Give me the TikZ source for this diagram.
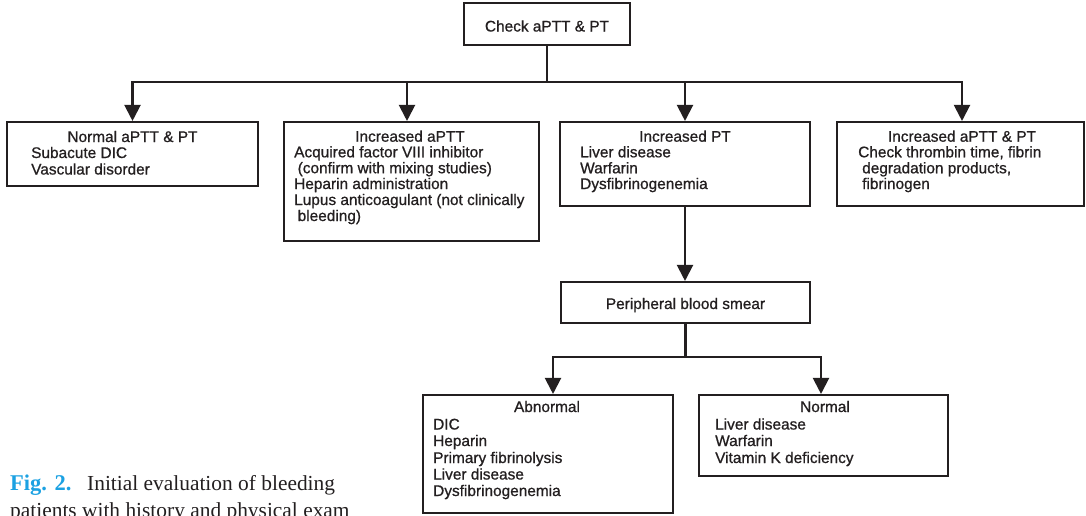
\documentclass[tikz,border=0pt]{standalone}
\usepackage{fontspec}
\setmainfont{Liberation Sans}[FakeBold=0.8]
\newfontfamily\capfont{Liberation Serif}
\usetikzlibrary{arrows.meta}
\definecolor{ink}{HTML}{231F20}
\definecolor{figblue}{HTML}{1BA1E2}
\begin{document}
\begin{tikzpicture}[x=1pt,y=-1pt,
  box/.style={draw=ink, line width=2.1pt, rectangle, inner sep=0pt},
  ttl/.style={anchor=base, inner sep=0pt, font=\fontsize{15.4}{16}\selectfont, text=ink},
  itm/.style={anchor=base west, inner sep=0pt, font=\fontsize{15.4}{16}\selectfont, text=ink},
  conn/.style={draw=ink, line width=2.1pt},
  stem/.style={draw=ink, line width=2.8pt},
  arr/.style={conn, -{Triangle[width=16pt,length=16pt]}},
  captext/.style={anchor=base west, inner sep=0pt, font=\capfont\fontsize{21.4}{26}\selectfont, text=ink}
]
\useasboundingbox (0,0) rectangle (1086,515);

% boxes
\node[box, minimum width=166pt, minimum height=42pt] (top) at (547,24) {};
\node[box, minimum width=251pt, minimum height=64pt] (b1) at (132.5,154) {};
\node[box, minimum width=255pt, minimum height=119pt] (b2) at (411.5,181.5) {};
\node[box, minimum width=250pt, minimum height=84pt] (b3) at (685,164) {};
\node[box, minimum width=247pt, minimum height=84pt] (b4) at (960.5,164) {};
\node[box, minimum width=249pt, minimum height=41pt] (smear) at (685.5,302.5) {};
\node[box, minimum width=250pt, minimum height=118pt] (abn) at (548,454) {};
\node[box, minimum width=249pt, minimum height=81pt] (nrm) at (823.5,435.5) {};

% connectors
\coordinate (j1) at (547,82);
\coordinate (j2) at (685.5,357);
\draw[stem] (top.south) -- (j1);
\draw[arr] (j1) -| (b1.north);
\draw[arr] (j1) -| ([xshift=-4.5pt]b2.north);
\draw[arr] (j1) -| (b3.north);
\draw[arr] (j1) -| ([xshift=1.5pt]b4.north);
\draw[arr] (b3.south) -- (b3.south |- smear.north);
\draw[stem] (smear.south) -- (j2);
\draw[arr] (j2) -| ([xshift=5pt]abn.north);
\draw[arr] (j2) -| ([xshift=-2.5pt]nrm.north);

% texts
\node[ttl] (tt) at (547,31.5) {Check aPTT \& PT};

\node[ttl] (t1) at (132.5,142) {Normal aPTT \& PT};
\node[itm] (t1a) at (31,158) {Subacute DIC};
\node[itm] (t1b) at (31,174.5) {Vascular disorder};

\node[ttl] (t2) at (410,141.7) {Increased aPTT};
\node[itm] (t2a) at (294,157.3) {Acquired factor VIII inhibitor};
\node[itm] (t2b) at (297.5,173.2) {(confirm with mixing studies)};
\node[itm] (t2c) at (294,189) {Heparin administration};
\node[itm] (t2d) at (294,205) {Lupus anticoagulant (not clinically};
\node[itm] (t2e) at (297.5,221) {bleeding)};

\node[ttl] (t3) at (685,141.7) {Increased PT};
\node[itm] (t3a) at (580,157.3) {Liver disease};
\node[itm] (t3b) at (580,173.3) {Warfarin};
\node[itm] (t3c) at (580,189) {Dysfibrinogenemia};

\node[ttl] (t4) at (962,141.7) {Increased aPTT \& PT};
\node[itm] (t4a) at (858,157.3) {Check thrombin time, fibrin};
\node[itm] (t4b) at (862,173.3) {degradation products,};
\node[itm] (t4c) at (862,189) {fibrinogen};

\node[ttl] (ts) at (685.5,309) {Peripheral blood smear};

\node[ttl] (t5) at (547,412) {Abnormal};
\node[itm] (t5a) at (433,429.5) {DIC};
\node[itm] (t5b) at (433,446) {Heparin};
\node[itm] (t5c) at (433,463) {Primary fibrinolysis};
\node[itm] (t5d) at (433,479.5) {Liver disease};
\node[itm] (t5e) at (433,496) {Dysfibrinogenemia};

\node[ttl] (t6) at (825,412) {Normal};
\node[itm] (t6a) at (715,429.5) {Liver disease};
\node[itm] (t6b) at (715,446) {Warfarin};
\node[itm] (t6c) at (715,463) {Vitamin K deficiency};

% caption (cut at the lower edge, as in the reference)
\begin{scope}
\clip (0,0) rectangle (1086,515);
\node[captext, text=figblue, font=\capfont\bfseries\fontsize{22.5}{26}\selectfont] (figlab) at (10,490) {Fig. 2.};
\node[captext] (cap1) at (87,490) {Initial evaluation of bleeding};
\node[captext] (cap2) at (10,517) {patients with history and physical exam};
\end{scope}
\end{tikzpicture}
\end{document}
